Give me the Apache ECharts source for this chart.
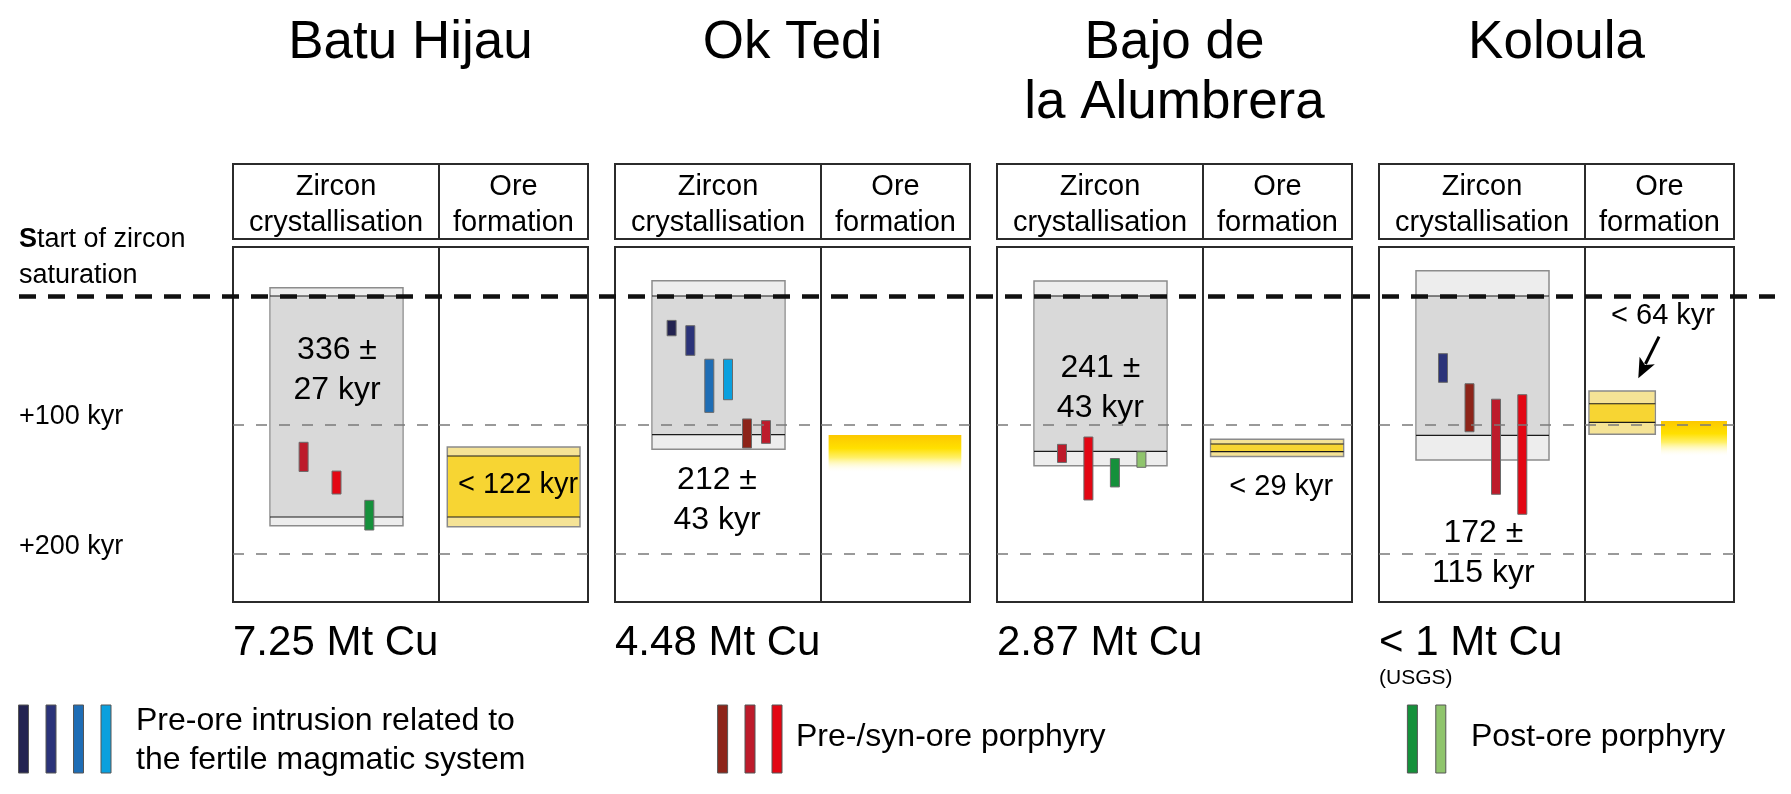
<!DOCTYPE html>
<html>
<head>
<meta charset="utf-8">
<script src="https://cdn.jsdelivr.net/npm/echarts@6/dist/echarts.min.js"></script>
<style type="text/css">
html,body{margin:0;padding:0;background:#fff;}
#chart_main{width:1791px;height:794px;}
</style>
</head>
<body>
<div id="chart_main"></div>
<script type="text/javascript">
// ---- data (kyr after start of zircon saturation) ----
var deposits = ['Batu Hijau', 'Ok Tedi', 'Bajo de\nla Alumbrera', 'Koloula'];
var copper = ['7.25 Mt Cu', '4.48 Mt Cu', '2.87 Mt Cu', '< 1 Mt Cu'];
var copperNote = ['', '', '', '(USGS)'];
var columnTitles = ['Zircon\ncrystallisation', 'Ore\nformation'];
// zircon crystallisation window: [outer top, top, bottom, outer bottom]
var zirconWindow = [
	[-6.5, 0, 171.3, 178],
	[-11.9, 0, 107.5, 118.8],
	[-11.6, 0, 120.4, 131.5],
	[-19.6, 0, 108, 127.1]
];
var zirconLabel = ['336 ±\n27 kyr', '212 ±\n43 kyr', '241 ±\n43 kyr', '172 ±\n115 kyr'];
// intrusions per deposit: [type, start, end]
var intrusions = [
	[[5, 113.4, 136], [6, 135.7, 153.5], [7, 158.4, 181.4]],
	[[0, 18.9, 30.8], [1, 23, 46], [2, 49, 90.2], [3, 49, 80.4], [4, 95.3, 117.8], [5, 96.6, 114.2]],
	[[5, 115, 129], [6, 109.3, 158.1], [7, 126, 148], [8, 120.7, 132.8]],
	[[1, 44.7, 66.9], [4, 68, 105.2], [5, 80, 153.7], [6, 76.5, 169.2]]
];
// ore formation window: [outer top, top, bottom, outer bottom]
var oreWindow = [[117, 124, 171.3, 178.8], null, [111.1, 114.7, 120.7, 124.4], [73.6, 83.5, 97.9, 107.2]];
var oreFade = [null, [107.8, 137], null, [96.9, 124.6]];
var oreLabel = ['< 122 kyr', '', '< 29 kyr', '< 64 kyr'];
var yTicks = [0, 100, 200];
var yTickLabels = ['{b|S}tart of zircon\nsaturation', '+100 kyr', '+200 kyr'];
var legendGroups = [
	{types: [0, 1, 2, 3], text: 'Pre-ore intrusion related to\nthe fertile magmatic system'},
	{types: [4, 5, 6], text: 'Pre-/syn-ore porphyry'},
	{types: [7, 8], text: 'Post-ore porphyry'}
];

// ---- layout and style ----
var colors = ['#232350', '#2b3379', '#1e6db5', '#0aa0de', '#8d2419', '#bd1b2b', '#e30613', '#15903b', '#8fc46c'];
var FONT = "'Liberation Sans', Arial, Helvetica, sans-serif";
var TEXT_DY = 2.5;
var panelLeft = [233, 615, 997, 1379];
var zW = 206, oW = 149;
var bodyTop = 247, bodyH = 355;
var yMin = -38, yMax = 237.2;
var boxX = [37, 170];
var barSlots = [[70.6, 103.5, 136.3], [56.6, 75.3, 94.3, 113, 132, 151], [65, 91.4, 117.9, 144.4], [64, 90.5, 117, 143.3]];
var zLabelPos = [[104, 55.3], [102, 156.6], [103.4, 69.5], [104.3, 197.4]];
var oreBoxX = [[8.3, 141], null, [7.6, 140.6], [4, 70.3]];
var oreFadeX = [null, [7.6, 140.3], null, [76, 142]];
var oreLabelPos = [[79, 144.2], null, [78.3, 146], [78, 13.4]];
var arrow = [3, [74, 31.5], [53.3, 63.8]];
var tickLabelPos = [-31.7, 91.4, 191.9];

function txt(x, y, text, size, align, lh) {
	return {type: 'text', x: x, y: y + TEXT_DY, silent: true, style: {text: text, font: size + 'px ' + FONT, fill: '#000', align: align || 'center', verticalAlign: 'middle', lineHeight: lh || size}};
}

var grids = [], xAxes = [], yAxes = [], series = [];
function addGrid(left, width) {
	grids.push({left: left, top: bodyTop, width: width, height: bodyH, show: true, borderColor: '#2b2b2b', borderWidth: 2, backgroundColor: 'transparent'});
	xAxes.push({type: 'value', gridIndex: grids.length - 1, min: 0, max: width, show: false});
	yAxes.push({type: 'value', gridIndex: grids.length - 1, min: yMin, max: yMax, inverse: true, show: false});
	return grids.length - 1;
}
var thinLines = {silent: true, symbol: 'none', label: {show: false}, lineStyle: {color: '#7a7a7a', width: 1.5, type: [11, 12]}, data: [{yAxis: yTicks[1]}, {yAxis: yTicks[2]}]};

function bandItem(x0, x1, w, fill, band, edge) {
	return function (params, api) {
		var a = api.coord([x0, w[0]]), b = api.coord([x0, w[1]]), c = api.coord([x0, w[2]]), d = api.coord([x1, w[3]]);
		var left = a[0], width = d[0] - a[0];
		return {type: 'group', children: [
			{type: 'rect', shape: {x: left, y: a[1], width: width, height: d[1] - a[1]}, style: {fill: band, stroke: edge, lineWidth: 1.5}},
			{type: 'rect', shape: {x: left + 0.75, y: b[1], width: width - 1.5, height: c[1] - b[1]}, style: {fill: fill}},
			{type: 'line', shape: {x1: left, y1: b[1], x2: left + width, y2: b[1]}, style: {stroke: '#1a1a1a', lineWidth: 1.2}},
			{type: 'line', shape: {x1: left, y1: c[1], x2: left + width, y2: c[1]}, style: {stroke: '#1a1a1a', lineWidth: 1.2}}
		]};
	};
}

deposits.forEach(function (name, i) {
	var gz = addGrid(panelLeft[i], zW);
	var go = addGrid(panelLeft[i] + zW, oW);
	// zircon window box
	series.push({type: 'custom', xAxisIndex: gz, yAxisIndex: gz, z: 2, silent: true, data: [[0, 0]],
		renderItem: bandItem(boxX[0], boxX[1], zirconWindow[i], '#d9d9d9', '#ededed', '#8c8c8c')});
	// intrusion bars
	series.push({type: 'custom', xAxisIndex: gz, yAxisIndex: gz, z: 4, silent: true,
		data: intrusions[i].map(function (d, k) { return [barSlots[i][k], d[1], d[2], d[0]]; }),
		renderItem: function (params, api) {
			var p0 = api.coord([api.value(0), api.value(1)]);
			var p1 = api.coord([api.value(0), api.value(2)]);
			return {type: 'rect', shape: {x: p0[0] - 4.5, y: p0[1], width: 9, height: p1[1] - p0[1]},
				style: {fill: colors[api.value(3)], stroke: '#6a6a6a', lineWidth: 1}};
		}});
	// age label
	series.push({type: 'custom', xAxisIndex: gz, yAxisIndex: gz, z: 6, silent: true, data: [zLabelPos[i]],
		renderItem: function (params, api) {
			var p = api.coord([api.value(0), api.value(1)]);
			return txt(p[0], p[1], zirconLabel[i], 32, 'center', 40);
		}});
	// thin dashed guide lines
	series.push({type: 'line', xAxisIndex: gz, yAxisIndex: gz, z: 5, data: [], markLine: thinLines});
	series.push({type: 'line', xAxisIndex: go, yAxisIndex: go, z: 5, data: [], markLine: thinLines});
	// ore formation
	if (oreWindow[i]) {
		series.push({type: 'custom', xAxisIndex: go, yAxisIndex: go, z: 2, silent: true, data: [[0, 0]],
			renderItem: bandItem(oreBoxX[i][0], oreBoxX[i][1], oreWindow[i], '#f7d533', '#f5e396', '#8a8a8a')});
	}
	if (oreFade[i]) {
		series.push({type: 'custom', xAxisIndex: go, yAxisIndex: go, z: 2, silent: true, data: [[0, 0]],
			renderItem: function (params, api) {
				var a = api.coord([oreFadeX[i][0], oreFade[i][0]]), b = api.coord([oreFadeX[i][1], oreFade[i][1]]);
				return {type: 'rect', shape: {x: a[0], y: a[1], width: b[0] - a[0], height: b[1] - a[1]},
					style: {fill: new echarts.graphic.LinearGradient(0, 0, 0, 1, [
						{offset: 0, color: '#fcc800'}, {offset: 0.35, color: '#ffe000'}, {offset: 0.6, color: '#fff06a'}, {offset: 1, color: 'rgba(255,255,255,0)'}])}};
			}});
	}
	if (oreLabel[i]) {
		series.push({type: 'custom', xAxisIndex: go, yAxisIndex: go, z: 6, silent: true, data: [oreLabelPos[i]],
			renderItem: function (params, api) {
				var p = api.coord([api.value(0), api.value(1)]);
				return txt(p[0], p[1], oreLabel[i], 29, 'center');
			}});
	}
	if (arrow[0] === i) {
		series.push({type: 'custom', xAxisIndex: go, yAxisIndex: go, z: 6, silent: true, data: [[0, 0]],
			renderItem: function (params, api) {
				var s = api.coord(arrow[1]), e = api.coord(arrow[2]);
				var dx = e[0] - s[0], dy = e[1] - s[1], len = Math.sqrt(dx * dx + dy * dy);
				var ux = dx / len, uy = dy / len, hl = 20, hw = 8.5;
				var bx = e[0] - ux * hl, by = e[1] - uy * hl;
				return {type: 'group', children: [
					{type: 'line', shape: {x1: s[0], y1: s[1], x2: bx + ux * 4, y2: by + uy * 4}, style: {stroke: '#000', lineWidth: 3}},
					{type: 'polygon', shape: {points: [[e[0], e[1]], [bx - uy * hw, by + ux * hw], [bx + ux * 5, by + uy * 5], [bx + uy * hw, by - ux * hw]]}, style: {fill: '#000'}}
				]};
			}});
	}
});

// full-width grid for saturation line and time labels
var gAll = grids.length;
grids.push({left: 19, top: bodyTop, width: 1756, height: bodyH, show: false});
xAxes.push({type: 'value', gridIndex: gAll, min: 0, max: 1756, show: false});
yAxes.push({type: 'value', gridIndex: gAll, min: yMin, max: yMax, inverse: true, show: false});
series.push({type: 'line', xAxisIndex: gAll, yAxisIndex: gAll, z: 8, data: [],
	markLine: {silent: true, symbol: 'none', label: {show: false}, lineStyle: {color: '#111', width: 4.5, type: [17, 12]}, data: [{yAxis: yTicks[0]}]}});
series.push({type: 'custom', xAxisIndex: gAll, yAxisIndex: gAll, z: 6, silent: true,
	data: yTickLabels.map(function (t, k) { return [0, tickLabelPos[k]]; }),
	renderItem: function (params, api) {
		var p = api.coord([api.value(0), api.value(1)]);
		var el = txt(p[0], p[1], yTickLabels[params.dataIndex], 27, 'left', 35.6);
		el.style.rich = {b: {fontWeight: 'bold', fontSize: 27, fontFamily: FONT, lineHeight: 35.6}};
		return el;
	}});

// header boxes, titles, copper tonnage, legend
var graphics = [];
deposits.forEach(function (name, i) {
	var L = panelLeft[i];
	graphics.push(txt(L + (zW + oW) / 2, name.indexOf('\n') > 0 ? 70.6 : 41, name, 53, 'center', 60));
	graphics.push({type: 'rect', shape: {x: L, y: 164, width: zW, height: 75}, style: {fill: 'none', stroke: '#2b2b2b', lineWidth: 2}});
	graphics.push({type: 'rect', shape: {x: L + zW, y: 164, width: oW, height: 75}, style: {fill: 'none', stroke: '#2b2b2b', lineWidth: 2}});
	graphics.push(txt(L + zW / 2, 202.4, columnTitles[0], 29, 'center', 36));
	graphics.push(txt(L + zW + oW / 2, 202.4, columnTitles[1], 29, 'center', 36));
	graphics.push(txt(L, 641, copper[i], 42, 'left'));
	if (copperNote[i]) graphics.push(txt(L, 676, copperNote[i], 21, 'left'));
});
var legendX = [[18.5, 46, 73.5, 101], [717.6, 745, 772], [1407.4, 1435.8]];
var legendTextX = [136, 796, 1471];
var legendTextY = [738.5, 735, 735];
legendGroups.forEach(function (g, k) {
	g.types.forEach(function (t, j) {
		graphics.push({type: 'rect', shape: {x: legendX[k][j], y: 705, width: 10, height: 68}, style: {fill: colors[t], stroke: '#555', lineWidth: 1}});
	});
	graphics.push(txt(legendTextX[k], legendTextY[k], g.text, 32, 'left', 39));
});

var myChart = echarts.init(document.getElementById('chart_main'), null, {renderer: 'canvas'});
myChart.setOption({
	animation: false,
	backgroundColor: '#fff',
	grid: grids,
	xAxis: xAxes,
	yAxis: yAxes,
	series: series,
	graphic: {elements: graphics}
});
</script>
</body>
</html>
